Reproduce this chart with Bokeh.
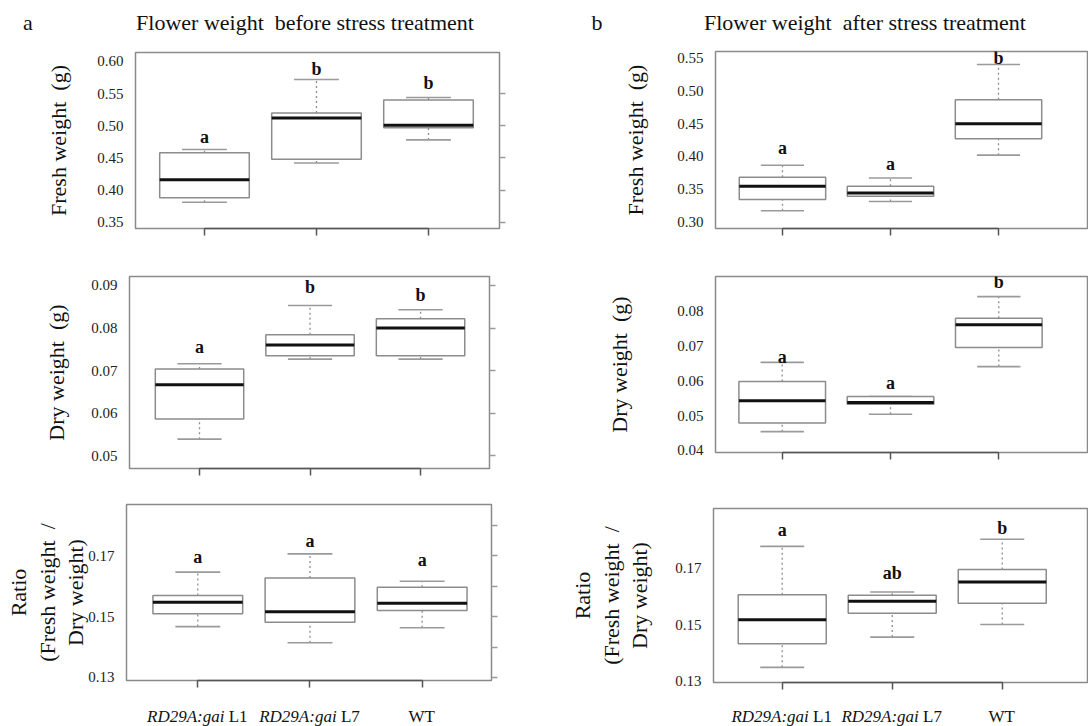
from bokeh.plotting import figure
from bokeh.layouts import row, column
from bokeh.models import (LinearAxis, FixedTicker, Range1d, Div,
                          ColumnDataSource, PrintfTickFormatter)
from bokeh.core.properties import value
from bokeh.embed import file_html
from bokeh.resources import INLINE

# ---------------- data ----------------
groups = ["RD29A:gai L1", "RD29A:gai L7", "WT"]
group_italic = ["RD29A:gai", "RD29A:gai", ""]
group_plain = ["L1", "L7", "WT"]

# (a) before stress treatment
fb_low = [0.381, 0.442, 0.478]
fb_q1 = [0.388, 0.448, 0.497]
fb_med = [0.416, 0.512, 0.501]
fb_q3 = [0.458, 0.520, 0.540]
fb_high = [0.463, 0.572, 0.544]
fb_letters = ["a", "b", "b"]
fb_letter_y = [0.482, 0.589, 0.566]

db_low = [0.0539, 0.0727, 0.0727]
db_q1 = [0.0586, 0.0735, 0.0735]
db_med = [0.0667, 0.0760, 0.0800]
db_q3 = [0.0704, 0.0784, 0.0822]
db_high = [0.0716, 0.0853, 0.0843]
db_letters = ["a", "b", "b"]
db_letter_y = [0.0756, 0.0896, 0.0878]

rb_low = [0.1467, 0.1414, 0.1463]
rb_q1 = [0.1509, 0.1481, 0.1520]
rb_med = [0.1547, 0.1516, 0.1544]
rb_q3 = [0.1569, 0.1627, 0.1596]
rb_high = [0.1646, 0.1706, 0.1616]
rb_letters = ["a", "a", "a"]
rb_letter_y = [0.1695, 0.1747, 0.1686]

# (b) after stress treatment
fa_low = [0.317, 0.331, 0.402]
fa_q1 = [0.334, 0.339, 0.427]
fa_med = [0.3545, 0.344, 0.450]
fa_q3 = [0.368, 0.3545, 0.4866]
fa_high = [0.3866, 0.367, 0.5406]
fa_letters = ["a", "a", "b"]
fa_letter_y = [0.4126, 0.3888, 0.5500]

da_low = [0.0454, 0.0504, 0.0641]
da_q1 = [0.0479, 0.0533, 0.0696]
da_med = [0.0543, 0.0538, 0.0761]
da_q3 = [0.0598, 0.0555, 0.0780]
da_high = [0.0653, 0.0555, 0.0842]
da_letters = ["a", "a", "b"]
da_letter_y = [0.0670, 0.0595, 0.0883]

ra_low = [0.1347, 0.1455, 0.1500]
ra_q1 = [0.1431, 0.1540, 0.1576]
ra_med = [0.1517, 0.1583, 0.1652]
ra_q3 = [0.1606, 0.1604, 0.1696]
ra_high = [0.1779, 0.1616, 0.1804]
ra_letters = ["a", "ab", "b"]
ra_letter_y = [0.1839, 0.1684, 0.1843]

fresh_before_ticks = [0.35, 0.40, 0.45, 0.50, 0.55, 0.60]
fresh_before_rticks = [0.35, 0.40, 0.45, 0.50, 0.55]
dry_before_ticks = [0.05, 0.06, 0.07, 0.08, 0.09]
ratio_ticks = [0.13, 0.15, 0.17]
ratio_rticks = [0.13, 0.14, 0.15, 0.16, 0.17, 0.18]
fresh_after_ticks = [0.30, 0.35, 0.40, 0.45, 0.50, 0.55]
dry_after_ticks = [0.04, 0.05, 0.06, 0.07, 0.08]

panel_a_tag, panel_b_tag = "a", "b"
title_a = "Flower weight  before stress treatment"
title_b = "Flower weight  after stress treatment"
ylab_fresh = "Fresh weight\u00a0 (g)"
ylab_dry = "Dry weight\u00a0 (g)"
ylab_ratio = "Ratio\n(Fresh weight\u00a0 /\nDry weight)"

SERIF = "Liberation Serif"
BOX_C = "#8c8c8c"
TXT_C = "#111111"


def panel(w, h, bl, bt, br, bb, xr, yr, low, q1, med, q3, high,
          letters, letter_y, ticks, ylabel, ystand, rticks=None):
    p = figure(width=w, height=h, x_range=Range1d(*xr), y_range=Range1d(*yr),
               output_backend="svg", toolbar_location=None,
               min_border_left=bl, min_border_right=br,
               min_border_top=bt, min_border_bottom=bb,
               x_axis_location=None, y_axis_location=None)
    p.title.visible = False
    p.xgrid.visible = False
    p.ygrid.visible = False
    p.outline_line_color = "#8a8a8a"
    p.outline_line_width = 1.5
    p.background_fill_color = "white"
    p.border_fill_color = "white"

    xs = [i + 1 for i in range(len(groups))]

    ya = LinearAxis(ticker=FixedTicker(ticks=ticks),
                    formatter=PrintfTickFormatter(format="%.2f"),
                    axis_label=ylabel)
    ya.axis_line_color = None
    ya.major_tick_line_color = None
    ya.minor_tick_line_color = None
    ya.major_tick_out = 0
    ya.major_tick_in = 0
    ya.major_label_standoff = 12
    ya.major_label_text_font = SERIF
    ya.major_label_text_font_size = "15px"
    ya.major_label_text_color = "#222222"
    ya.axis_label_text_font = SERIF
    ya.axis_label_text_font_size = "22px"
    ya.axis_label_text_font_style = "normal"
    ya.axis_label_text_color = TXT_C
    ya.axis_label_standoff = ystand
    ya.axis_label_text_line_height = 1.15
    p.add_layout(ya, "left")

    xa = LinearAxis(ticker=FixedTicker(ticks=xs), bounds=(xs[0], xs[-1]))
    xa.major_label_text_font_size = "0px"
    xa.major_label_text_color = None
    xa.major_label_standoff = 0
    xa.axis_line_color = "#555555"
    xa.axis_line_width = 1.5
    xa.major_tick_out = 7
    xa.major_tick_in = 0
    xa.major_tick_line_color = "#555555"
    xa.major_tick_line_width = 1.5
    xa.minor_tick_line_color = None
    p.add_layout(xa, "below")

    if rticks is not None:
        ra = LinearAxis(ticker=FixedTicker(ticks=rticks))
        ra.major_label_text_font_size = "0px"
        ra.major_label_text_color = None
        ra.major_label_standoff = 0
        ra.axis_line_color = None
        ra.major_tick_out = 6
        ra.major_tick_in = 0
        ra.major_tick_line_color = "#9a9a9a"
        ra.major_tick_line_width = 1.3
        ra.minor_tick_line_color = None
        p.add_layout(ra, "right")

    src = ColumnDataSource(dict(
        x=xs, low=low, q1=q1, med=med, q3=q3, high=high,
        bl=[x - 0.4 for x in xs], br=[x + 0.4 for x in xs],
        cl=[x - 0.2 for x in xs], cr=[x + 0.2 for x in xs],
        letters=letters, ly=letter_y))

    p.segment(x0="x", x1="x", y0="q3", y1="high", source=src,
              line_color=BOX_C, line_width=1.3, line_dash="2 3")
    p.segment(x0="x", x1="x", y0="low", y1="q1", source=src,
              line_color=BOX_C, line_width=1.3, line_dash="2 3")
    p.segment(x0="cl", x1="cr", y0="high", y1="high", source=src,
              line_color="#9a9a9a", line_width=1.6)
    p.segment(x0="cl", x1="cr", y0="low", y1="low", source=src,
              line_color="#9a9a9a", line_width=1.6)
    p.vbar(x="x", width=0.8, bottom="q1", top="q3", source=src,
           fill_color="white", line_color=BOX_C, line_width=1.5)
    p.segment(x0="bl", x1="br", y0="med", y1="med", source=src,
              line_color="#111111", line_width=3)
    p.text(x="x", y="ly", text="letters", source=src,
           text_font=value(SERIF), text_font_size="18px",
           text_font_style="bold", text_align="center",
           text_baseline="middle", text_color=TXT_C)
    return p


BASE = ("position:absolute;transform:translate(-50%,-50%);"
        "white-space:pre;line-height:1;")


def header(w, h, tag, tag_x, title, title_x, ty):
    html = (
        f'<div style="position:relative;width:{w}px;height:{h}px;'
        f'font-family:\'{SERIF}\';font-size:22px;color:{TXT_C};">'
        f'<span style="{BASE}left:{tag_x}px;top:{ty}px;">{tag}</span>'
        f'<span style="{BASE}left:{title_x}px;top:{ty}px;">{title}</span>'
        '</div>')
    return Div(text=html, width=w, height=h, margin=0)


def footer(w, h, xr, bl, br, ty):
    fw = w - bl - br
    spans = []
    for i, (it, pl) in enumerate(zip(group_italic, group_plain)):
        cx = bl + (i + 1 - xr[0]) / (xr[1] - xr[0]) * fw
        txt = (f"<i>{it}</i> {pl}" if it else pl)
        spans.append(f'<span style="{BASE}left:{cx:.1f}px;top:{ty}px;">{txt}</span>')
    html = (f'<div style="position:relative;width:{w}px;height:{h}px;'
            f'font-family:\'{SERIF}\';font-size:17px;color:{TXT_C};">'
            + "".join(spans) + '</div>')
    return Div(text=html, width=w, height=h, margin=0)


def solo(p):
    return column(p, spacing=0)


WL, WR = 548, 540

xrA1 = (0.384, 3.634)
xrA2 = (0.3665, 3.624)
xrA3 = (0.3645, 3.618)
HA = header(WL, 38, panel_a_tag, 28, title_a, 305, 23)
A1 = panel(WL, 207, 135, 14, 49, 17, xrA1, (0.3402, 0.614),
           fb_low, fb_q1, fb_med, fb_q3, fb_high, fb_letters, fb_letter_y,
           fresh_before_ticks, ylab_fresh, 23, fresh_before_rticks)
A2 = panel(WL, 245, 129, 31, 59, 22, xrA2, (0.047, 0.0921),
           db_low, db_q1, db_med, db_q3, db_high, db_letters, db_letter_y,
           dry_before_ticks, ylab_dry, 19, dry_before_ticks)
A3 = panel(WL, 210, 126, 14, 57, 20, xrA3, (0.129, 0.1868),
           rb_low, rb_q1, rb_med, rb_q3, rb_high, rb_letters, rb_letter_y,
           ratio_ticks, ylab_ratio, -3, ratio_rticks)
FA = footer(WL, 25, xrA3, 126, 57, 16)

xrB1 = (0.380, 3.824)
xrB2 = (0.384, 3.819)
xrB3 = (0.3755, 3.775)
HB = header(WR, 38, panel_b_tag, 49, title_b, 317, 23)
B1 = panel(WR, 207, 167, 13, 1, 17, xrB1, (0.2898, 0.5605),
           fa_low, fa_q1, fa_med, fa_q3, fa_high, fa_letters, fa_letter_y,
           fresh_after_ticks, ylab_fresh, 26)
B2 = panel(WR, 245, 167, 31, 1, 38, xrB2, (0.0394, 0.0900),
           da_low, da_q1, da_med, da_q3, da_high, da_letters, da_letter_y,
           dry_after_ticks, ylab_dry, 42)
B3 = panel(WR, 210, 165, 18, 1, 18, xrB3, (0.1293, 0.1914),
           ra_low, ra_q1, ra_med, ra_q3, ra_high, ra_letters, ra_letter_y,
           ratio_ticks, ylab_ratio, 20)
FB = footer(WR, 25, xrB3, 165, 1, 16)

left = column(HA, solo(A1), solo(A2), solo(A3), FA, spacing=0)
right = column(HB, solo(B1), solo(B2), solo(B3), FB, spacing=0)
layout = row(left, right, spacing=0)
open("out.html", "w").write(file_html(layout, INLINE))
